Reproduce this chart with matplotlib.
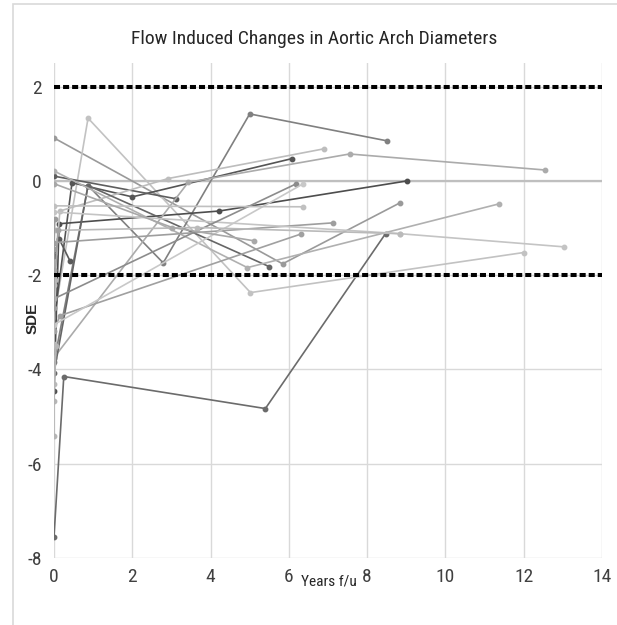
import matplotlib
matplotlib.use("Agg")
import matplotlib.pyplot as plt
from matplotlib import font_manager as fm
from matplotlib.patches import Rectangle

# ---------------- data ----------------
title = "Flow Induced Changes in Aortic Arch Diameters"
x_label = "Years f/u"
y_label = "SDE"
x_ticks = [0, 2, 4, 6, 8, 10, 12, 14]
y_ticks = [-8, -6, -4, -2, 0, 2]
ref_lines = [2, -2]

years_01 = [0, 0.25, 5.4, 8.47]
sde_01 = [-7.55, -4.15, -4.83, -1.12]
years_02 = [0, 5.84, 8.83]
sde_02 = [0.91, -1.76, -0.47]
years_03 = [0, 0.87, 5.02, 12.0]
sde_03 = [-2.9, 1.33, -2.37, -1.52]
years_04 = [0, 0.46, 2.0, 6.07]
sde_04 = [-3.0, -0.04, -0.34, 0.47]
years_05 = [0, 0.87, 2.79, 5.0, 8.5]
sde_05 = [-3.85, -0.1, -1.74, 1.42, 0.85]
years_06 = [0, 3.12]
sde_06 = [0.1, -0.38]
years_07 = [0, 0.13, 4.22, 9.03]
sde_07 = [-4.45, -0.91, -0.64, 0.0]
years_08 = [0, 0.15, 2.92, 6.9]
sde_08 = [-2.2, -0.64, 0.05, 0.68]
years_09 = [0, 3.43, 7.55, 12.55]
sde_09 = [-3.75, -0.03, 0.57, 0.23]
years_10 = [0, 0.13, 0.41]
sde_10 = [-1.6, -1.23, -1.7]
years_11 = [0, 0.87, 5.5]
sde_11 = [-4.07, -0.1, -1.82]
years_12 = [0, 4.94, 11.36]
sde_12 = [0.21, -1.84, -0.49]
years_13 = [0, 7.14]
sde_13 = [-1.31, -0.89]
years_14 = [0, 8.83, 13.03]
sde_14 = [-0.66, -1.12, -1.40]
years_15 = [0, 6.17]
sde_15 = [-2.5, -0.07]
years_16 = [0, 0.15, 6.3]
sde_16 = [-3.18, -2.86, -1.13]
years_17 = [0, 6.35]
sde_17 = [-3.05, -0.07]
years_18 = [0, 6.35]
sde_18 = [-0.53, -0.55]
years_19 = [0.05, 3.65, 8.83]
sde_19 = [-1.05, -0.99, -1.12]
years_20 = [0, 3.02, 5.1]
sde_20 = [-0.06, -0.99, -1.27]
years_21 = [0, 0, 0.05]
sde_21 = [-5.42, -4.66, -3.5]
years_22 = [0, 0, 0.1]
sde_22 = [-1.9, -2.48, -1.05]
years_23 = [0, 0, 0.03]
sde_23 = [-4.3, -3.45, -2.1]
years_24 = [0, 0, 0.02]
sde_24 = [-2.7, -1.45, -0.8]

series_years = [years_01, years_02, years_03, years_04, years_05, years_06,
                years_07, years_08, years_09, years_10, years_11, years_12,
                years_13, years_14, years_15, years_16, years_17, years_18,
                years_19, years_20, years_21, years_22, years_23, years_24]
series_sde = [sde_01, sde_02, sde_03, sde_04, sde_05, sde_06,
              sde_07, sde_08, sde_09, sde_10, sde_11, sde_12,
              sde_13, sde_14, sde_15, sde_16, sde_17, sde_18,
              sde_19, sde_20, sde_21, sde_22, sde_23, sde_24]
series_colors = ['#6b6b6b', '#9a9a9a', '#c2c2c2', '#555555', '#808080', '#5e5e5e',
                 '#4d4d4d', '#bdbdbd', '#ababab', '#5a5a5a', '#666666', '#b0b0b0',
                 '#9e9e9e', '#c4c4c4', '#8c8c8c', '#a0a0a0', '#c8c8c8', '#c0c0c0',
                 '#bababa', '#a8a8a8', '#b5b5b5', '#a3a3a3', '#b8b8b8', '#9c9c9c']

# ---------------- fonts ----------------
entries = fm.fontManager.ttflist
names = {f.name for f in entries}
narrow_family = None
narrow_stretch = 'normal'
for cand in ['Liberation Sans Narrow', 'Roboto Condensed', 'Open Sans Condensed',
             'DejaVu Sans Condensed', 'Noto Sans Condensed']:
    if cand in names:
        narrow_family = cand
        break
if narrow_family is None:
    for f in entries:
        if f.name == 'DejaVu Sans' and str(f.stretch) in ('condensed', 'semi-condensed'):
            narrow_family, narrow_stretch = 'DejaVu Sans', 'condensed'
            break
if narrow_family is None:
    narrow_family = 'Liberation Sans' if 'Liberation Sans' in names else 'DejaVu Sans'
arial = 'Liberation Sans' if 'Liberation Sans' in names else 'DejaVu Sans'

# ---------------- figure ----------------
W, H = 617, 625
fig = plt.figure(figsize=(W / 100, H / 100), dpi=100)
fig.patch.set_facecolor('white')

# outer chart border
fig.add_artist(Rectangle((13 / W, -0.01), 1.1, 1 - 4 / H + 0.01, transform=fig.transFigure,
                         fill=False, edgecolor='#d9d9d9', linewidth=1.2))

left, right, top, bottom = 54, 602, 63, 558
ax = fig.add_axes([left / W, 1 - bottom / H, (right - left) / W, (bottom - top) / H])
ax.set_xlim(0, 14)
ax.set_ylim(-8, 2.5)

for xv in x_ticks:
    ax.axvline(xv, color='#d9d9d9', linewidth=1.0, zorder=0)
for yv in y_ticks:
    ax.axhline(yv, color='#d9d9d9', linewidth=1.0, zorder=0)
ax.axhline(0, color='#bfbfbf', linewidth=1.6, zorder=0.5)

for xs, ys, c in zip(series_years, series_sde, series_colors):
    ax.plot(xs, ys, color=c, linewidth=1.2, marker='o', markersize=3.2,
            markeredgecolor=c, markerfacecolor=c, zorder=2)

for yv in ref_lines:
    ax.axhline(yv, color='black', linewidth=2.9, linestyle=(0, (1.5, 0.75)), zorder=3)

for s in ax.spines.values():
    s.set_visible(False)
ax.set_xticks(x_ticks)
ax.set_yticks(y_ticks)
ax.set_xticklabels([str(v) for v in x_ticks])
ax.set_yticklabels([str(v) for v in y_ticks])
ax.tick_params(length=0, labelsize=14, colors='#404040')
ax.tick_params(axis='x', pad=7)
ax.tick_params(axis='y', pad=9)
for lab in ax.get_xticklabels() + ax.get_yticklabels():
    lab.set_family(narrow_family)
    lab.set_stretch(narrow_stretch)

t_title = fig.text(314 / W, 1 - 39 / H, title, ha='center', va='center', fontsize=17,
                   family=narrow_family, stretch=narrow_stretch, color='#262626')
t_xlab = fig.text(329 / W, 1 - 582 / H, x_label, ha='center', va='center', fontsize=12.5,
                  family=narrow_family, stretch=narrow_stretch, color='#262626')
fig.text(33 / W, 1 - 318 / H, y_label, ha='center', va='center', fontsize=11,
         family=arial, fontweight='bold', rotation=90, color='#262626')

# fit text widths to the reference layout
renderer = fig.canvas.get_renderer()
for t, target in [(t_title, 365), (t_xlab, 56)]:
    w = t.get_window_extent(renderer).width
    if w > 0:
        t.set_fontsize(t.get_fontsize() * target / w)

fig.savefig('out.png', dpi=100, facecolor='white')
